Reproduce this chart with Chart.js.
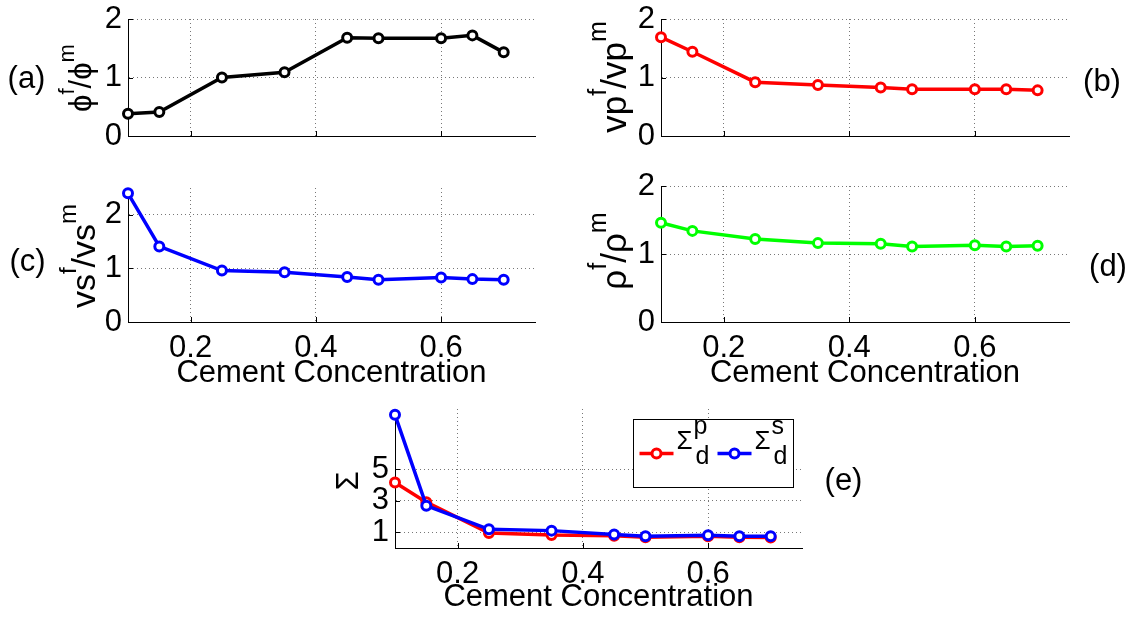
<!DOCTYPE html>
<html>
<head>
<meta charset="utf-8">
<title>Cement concentration ratios</title>
<script src="https://cdn.jsdelivr.net/npm/chart.js@4.4.0/dist/chart.umd.min.js"></script>
<style>
  html, body { margin: 0; padding: 0; background: #fff; }
  #fig { position: relative; width: 1132px; height: 618px; overflow: hidden; }
  #fig canvas { position: absolute; left: 0; top: 0; }
</style>
</head>
<body>
<div id="fig">
  <canvas id="pa" width="1132" height="618"></canvas>
  <canvas id="pb" width="1132" height="618"></canvas>
  <canvas id="pc" width="1132" height="618"></canvas>
  <canvas id="pd" width="1132" height="618"></canvas>
  <canvas id="pe" width="1132" height="618"></canvas>
</div>
<script>
// cement concentration of the samples
const concentration = [0.1, 0.15, 0.25, 0.35, 0.45, 0.5, 0.6, 0.65, 0.7];

// fracture / matrix ratios
const porosityRatio = [0.38, 0.41, 1.00, 1.09, 1.68, 1.67, 1.67, 1.72, 1.43];
const vpRatio       = [1.69, 1.44, 0.92, 0.87, 0.83, 0.80, 0.80, 0.80, 0.78];
const vsRatio       = [2.40, 1.41, 0.96, 0.93, 0.84, 0.79, 0.83, 0.80, 0.79];
const densityRatio  = [1.46, 1.34, 1.22, 1.16, 1.15, 1.11, 1.13, 1.11, 1.12];

// dry-sample sigma for P and S waves
const sigmaP = [4.15, 2.90, 0.95, 0.82, 0.78, 0.68, 0.74, 0.68, 0.66];
const sigmaS = [8.43, 2.68, 1.18, 1.10, 0.86, 0.74, 0.80, 0.74, 0.74];

const xTicks = [0.2, 0.4, 0.6];
const ratioTicks = [0, 1, 2];
const sigmaTicks = [1, 3, 5];

const W = 1132, H = 618;
const FONT = "'Liberation Sans', 'DejaVu Sans', Arial, sans-serif";
const MAIN_SIZE = 31;
const GRID = '#777';
const TICK_LEN = 5;
const Y_W = 60;

Chart.defaults.font.family = FONT;
Chart.defaults.font.size = MAIN_SIZE;
Chart.defaults.color = '#000';

// text with raised runs, rotated about (x, y)
function drawRuns(ctx, runs, x, y, angle, size) {
  const supSize = Math.round(size * 0.71), rise = size * 0.56;
  ctx.save();
  ctx.translate(x, y);
  ctx.rotate(angle);
  ctx.fillStyle = '#000';
  ctx.textBaseline = 'alphabetic';
  ctx.textAlign = 'left';
  const sized = runs.map(r => {
    const s = r.sup ? supSize : size;
    ctx.font = s + 'px ' + FONT;
    return { t: r.t, sup: r.sup, size: s, w: ctx.measureText(r.t).width };
  });
  let pos = -sized.reduce((s, r) => s + r.w, 0) / 2;
  sized.forEach(r => {
    ctx.font = r.size + 'px ' + FONT;
    ctx.fillText(r.t, pos, r.sup ? -rise : 0);
    pos += r.w;
  });
  ctx.restore();
}

function ratioTitle(sym) {
  return [{ t: sym }, { t: 'f', sup: true }, { t: '/' }, { t: sym }, { t: 'm', sup: true }];
}

// MATLAB style ticks pointing into the axes
const inwardTicks = {
  id: 'inwardTicks',
  beforeDatasetsDraw(chart) {
    const { ctx, chartArea: a, scales: { x, y } } = chart;
    ctx.save();
    ctx.strokeStyle = '#000';
    ctx.lineWidth = 1;
    ctx.beginPath();
    x.ticks.forEach(t => {
      const px = Math.round(x.getPixelForValue(t.value)) + 0.5;
      ctx.moveTo(px, a.bottom);
      ctx.lineTo(px, a.bottom - TICK_LEN);
    });
    y.ticks.forEach(t => {
      const py = Math.round(y.getPixelForValue(t.value)) + 0.5;
      ctx.moveTo(a.left, py);
      ctx.lineTo(a.left + TICK_LEN, py);
    });
    ctx.stroke();
    ctx.restore();
  }
};

function panelText(o) {
  return {
    id: 'panelText',
    afterDraw(chart) {
      const { ctx, chartArea: a } = chart;
      drawRuns(ctx, o.yTitle, a.left - o.titleGap, o.titleY, -Math.PI / 2, o.titleSize);
      ctx.save();
      ctx.font = MAIN_SIZE + 'px ' + FONT;
      ctx.fillStyle = '#000';
      ctx.textAlign = 'center';
      ctx.textBaseline = 'middle';
      ctx.fillText(o.tag[0], o.tag[1], o.tag[2]);
      ctx.restore();
    }
  };
}

// boxed legend with Σ, superscript and subscript
const sigmaLegend = {
  id: 'sigmaLegend',
  afterDraw(chart) {
    const { ctx, chartArea: a } = chart;
    const right = a.right - 8.5, top = a.top + 10.5, w = 160, h = 68;
    const left = right - w;
    ctx.save();
    ctx.fillStyle = '#fff';
    ctx.fillRect(left, top, w, h);
    ctx.strokeStyle = '#000';
    ctx.lineWidth = 1;
    ctx.strokeRect(left, top, w, h);
    const rowY = top + 34;
    chart.data.datasets.forEach((ds, i) => {
      const x0 = left + 6 + i * 78;
      ctx.strokeStyle = ds.borderColor;
      ctx.lineWidth = 3.5;
      ctx.beginPath();
      ctx.moveTo(x0, rowY);
      ctx.lineTo(x0 + 34, rowY);
      ctx.stroke();
      ctx.beginPath();
      ctx.arc(x0 + 17, rowY, 4.5, 0, Math.PI * 2);
      ctx.fillStyle = '#fff';
      ctx.fill();
      ctx.lineWidth = 3;
      ctx.stroke();
      ctx.fillStyle = '#000';
      ctx.textAlign = 'left';
      ctx.textBaseline = 'alphabetic';
      ctx.font = '26px ' + FONT;
      const tx = x0 + 37;
      ctx.fillText('Σ', tx, rowY - 5);
      const sw = ctx.measureText('Σ').width;
      ctx.font = '25px ' + FONT;
      ctx.fillText(ds.sup, tx + sw + 1, rowY - 20);
      ctx.fillText('d', tx + sw + 3, rowY + 10);
    });
    ctx.restore();
  }
};

function panel(id, o) {
  const xH = o.xLabels ? o.xH : 0;
  const [l, t, r, b] = o.box;
  return new Chart(document.getElementById(id), {
    type: 'line',
    data: {
      datasets: o.series.map(s => ({
        label: s.label,
        sup: s.sup,
        data: concentration.map((c, i) => ({ x: c, y: s.values[i] })),
        borderColor: s.color,
        backgroundColor: s.color,
        borderWidth: 3.5,
        pointRadius: 4.5,
        pointBorderWidth: 3,
        pointBackgroundColor: '#fff',
        pointBorderColor: s.color,
        tension: 0,
        clip: false,
        order: s.order || 0
      }))
    },
    options: {
      responsive: false,
      animation: false,
      devicePixelRatio: 1,
      layout: { padding: { left: l - Y_W, top: t, right: W - r, bottom: H - b - xH } },
      plugins: { legend: { display: false }, tooltip: { enabled: false } },
      scales: {
        x: {
          type: 'linear',
          min: 0.1,
          max: 0.75,
          afterBuildTicks: s => { s.ticks = xTicks.map(v => ({ value: v })); },
          afterFit: s => { s.height = xH; s.paddingLeft = 0; s.paddingRight = 0; },
          grid: { color: GRID, lineWidth: 1, drawTicks: false },
          border: { color: '#000', width: 1, dash: [1, 3] },
          ticks: { display: o.xLabels, padding: 8, callback: v => v.toFixed(1) },
          title: { display: o.xLabels, text: 'Cement Concentration', padding: 0 }
        },
        y: {
          type: 'linear',
          min: 0,
          max: o.yMax,
          afterBuildTicks: s => { s.ticks = o.yTicks.map(v => ({ value: v })); },
          afterFit: s => { s.width = Y_W; s.paddingTop = 0; s.paddingBottom = 0; },
          grid: { color: GRID, lineWidth: 1, drawTicks: false },
          border: { color: '#000', width: 1, dash: [1, 3] },
          ticks: { padding: 6, callback: v => String(v) }
        }
      }
    },
    plugins: [inwardTicks, panelText(o)].concat(o.extra || [])
  });
}

panel('pa', {
  box: [128, 19, 535, 136], yMax: 2, yTicks: ratioTicks, xLabels: false,
  series: [{ label: 'porosity', values: porosityRatio, color: '#000000' }],
  yTitle: ratioTitle('ϕ'), titleSize: 31, titleGap: 37, titleY: 78, tag: ['(a)', 26.5, 79]
});
panel('pb', {
  box: [661, 19, 1069, 136], yMax: 2, yTicks: ratioTicks, xLabels: false,
  series: [{ label: 'vp', values: vpRatio, color: '#ff0000' }],
  yTitle: ratioTitle('vp'), titleSize: 35, titleGap: 35, titleY: 77, tag: ['(b)', 1102, 82]
});
panel('pc', {
  box: [128, 188, 535, 322], yMax: 2.5, yTicks: ratioTicks, xLabels: true, xH: 70,
  series: [{ label: 'vs', values: vsRatio, color: '#0000ff' }],
  yTitle: ratioTitle('vs'), titleSize: 34, titleGap: 33, titleY: 256, tag: ['(c)', 27.5, 262]
});
panel('pd', {
  box: [661, 186, 1069, 322], yMax: 2, yTicks: ratioTicks, xLabels: true, xH: 70,
  series: [{ label: 'density', values: densityRatio, color: '#00ff00' }],
  yTitle: ratioTitle('ρ'), titleSize: 35, titleGap: 35, titleY: 251, tag: ['(d)', 1108, 267]
});
panel('pe', {
  box: [395, 409, 802, 548], yMax: 8.8, yTicks: sigmaTicks, xLabels: true, xH: 68,
  series: [
    { label: 'Σdp', sup: 'p', values: sigmaP, color: '#ff0000', order: 1 },
    { label: 'Σds', sup: 's', values: sigmaS, color: '#0000ff', order: 0 }
  ],
  yTitle: [{ t: 'Σ' }], titleSize: 31, titleGap: 37, titleY: 481, tag: ['(e)', 843.5, 481],
  extra: [sigmaLegend]
});
</script>
</body>
</html>
